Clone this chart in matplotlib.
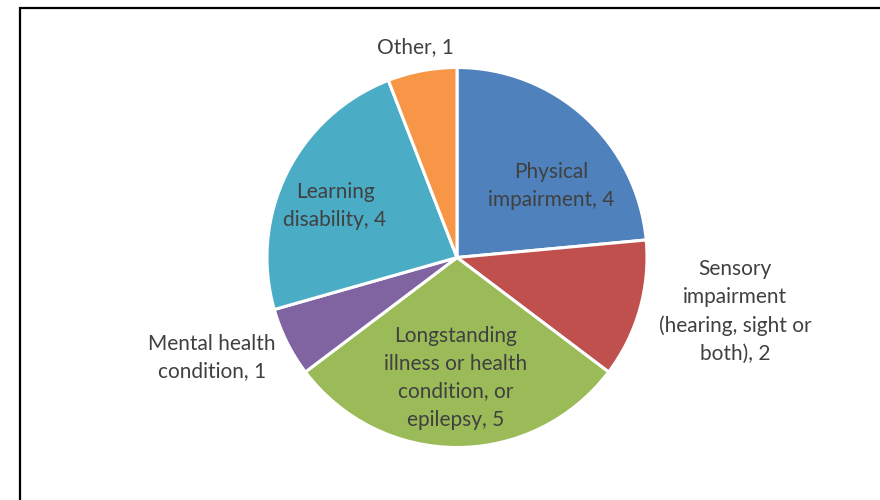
import matplotlib
matplotlib.use("Agg")
import matplotlib.pyplot as plt
from matplotlib.patches import Rectangle

categories = ["Physical\nimpairment", "Sensory\nimpairment\n(hearing, sight or\nboth)",
              "Longstanding\nillness or health\ncondition, or\nepilepsy",
              "Mental health\ncondition", "Learning\ndisability", "Other"]
values = [4, 2, 5, 1, 4, 1]
colors = ["#4F81BD", "#C0504D", "#9BBB59", "#8064A2", "#4BACC6", "#F79646"]

# label offsets from pie center (pixels)
label_offsets = [(94, 72), (278, -54), (-1, -120), (-245, -100), (-122, 52), (-42, 210)]

W, H = 880, 500
fig = plt.figure(figsize=(W / 100, H / 100), dpi=100)
ax = fig.add_axes([0, 0, 1, 1])

cx, cy, r = 457, 242.5, 190
wedges, _ = ax.pie(values, colors=colors, startangle=90, counterclock=False,
                   center=(cx, cy), radius=r, frame=True,
                   wedgeprops=dict(edgecolor="white", linewidth=2.2))
ax.set_xlim(0, W)
ax.set_ylim(0, H)
ax.set_aspect("equal")
ax.axis("off")

for cat, v, (dx, dy) in zip(categories, values, label_offsets):
    ax.text(cx + dx, cy + dy, f"{cat}, {v}", ha="center", va="center",
            ma="center", fontsize=15, color="#404040", family="Lato",
            linespacing=1.5)

# border frame
fig.patches.append(Rectangle((20 / W, -0.1), 1.2, (H - 8) / H + 0.1,
                             transform=fig.transFigure, fill=False,
                             edgecolor="black", linewidth=1.6))

fig.savefig("out.png", dpi=100)
